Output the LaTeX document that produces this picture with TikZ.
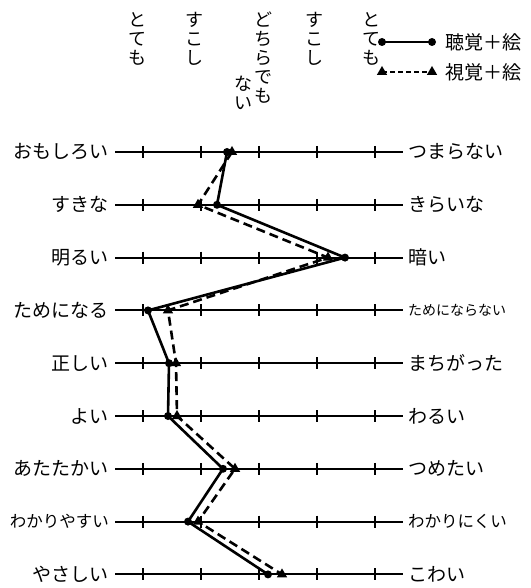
\documentclass[tikz,border=0pt]{standalone}
\usepackage{fontspec}
\setmainfont{Noto Sans CJK JP}
\usetikzlibrary{shapes.geometric}

\begin{document}
\begin{tikzpicture}[x=1pt,y=-1pt,
    axis/.style={line width=2pt},
    jp/.style={font=\fontsize{#1}{#1}\selectfont, inner sep=0pt},
    head/.style={align=center, anchor=north, inner sep=0pt, font=\fontsize{18}{19}\selectfont},
    audio/.style={line width=2.6pt},
    visual/.style={line width=2.6pt, dash pattern=on 9pt off 5pt},
    dot/.style={circle, fill, inner sep=0pt, minimum size=8pt},
    tri/.style={regular polygon, regular polygon sides=3, fill, inner sep=0pt, minimum size=12pt}]
  \useasboundingbox (0,0) rectangle (530,588);
  % scale headings
  \node[head] (h1) at (137,12) {と\\て\\も};
  \node[head] (h2) at (194,12) {す\\こ\\し};
  \node[head] (h3) at (263,12) {ど\\ち\\ら\\で\\も};
  \node[head] (h3b) at (243,76) {な\\い};
  \node[head] (h4) at (314,12) {す\\こ\\し};
  \node[head] (h5) at (371,12) {と\\て\\も};
  % legend
  \coordinate (a1) at (382,42);
  \coordinate (a2) at (432,42);
  \coordinate (v1) at (382,72);
  \coordinate (v2) at (432,72);
  \draw[audio] (a1) -- (a2);
  \draw[visual, dash pattern=on 5pt off 3pt] (v1) -- (v2);
  \node[dot] (am1) at (a1) {};
  \node[dot] (am2) at (a2) {};
  \node[tri] (vm1) at (v1) {};
  \node[tri] (vm2) at (v2) {};
  \node[jp=19, anchor=west] (ka) at (445,42) {聴覚＋絵};
  \node[jp=19, anchor=west] (ki) at (445,72) {視覚＋絵};
  % rows
  \foreach \i/\l/\r/\a/\b in {1/おもしろい/つまらない/19/19, 2/すきな/きらいな/19/19,
      3/明るい/暗い/19/19, 4/ためになる/ためにならない/19/14, 5/正しい/まちがった/19/19,
      6/よい/わるい/19/19, 7/あたたかい/つめたい/19/19, 8/わかりやすい/わかりにくい/16.5/16.5,
      9/やさしい/こわい/19/19} {
    \coordinate (L\i) at (115,{152+(\i-1)*52.8});
    \coordinate (R\i) at (403,{152+(\i-1)*52.8});
    \draw[axis] (L\i) -- (R\i);
    \foreach \x in {143,201,259,317,375}
      \draw[axis] (\x,{152+(\i-1)*52.8-6}) -- ++(0,12);
    \node[jp=\a, anchor=east] (lab\i) at ([xshift=-6pt]L\i) {\l};
    \node[jp=\b, anchor=west] (rab\i) at ([xshift=5pt]R\i) {\r};
  }
  % profiles
  \foreach \i/\s/\d in {1/227/232, 2/217/198, 3/345/328, 4/148/168, 5/169/176,
      6/168/177, 7/223/235, 8/188/198, 9/268/282} {
    \coordinate (s\i) at (\s,{152+(\i-1)*52.8});
    \coordinate (d\i) at (\d,{152+(\i-1)*52.8});
  }
  \draw[visual] (d1) -- (d2) -- (d3) -- (d4) -- (d5) -- (d6) -- (d7) -- (d8) -- (d9);
  \draw[audio] (s1) -- (s2) -- (s3) -- (s4) -- (s5) -- (s6) -- (s7) -- (s8) -- (s9);
  \foreach \i in {1,...,9} {
    \node[dot] (sm\i) at (s\i) {};
    \node[tri] (dm\i) at (d\i) {};
  }
\end{tikzpicture}
\end{document}
